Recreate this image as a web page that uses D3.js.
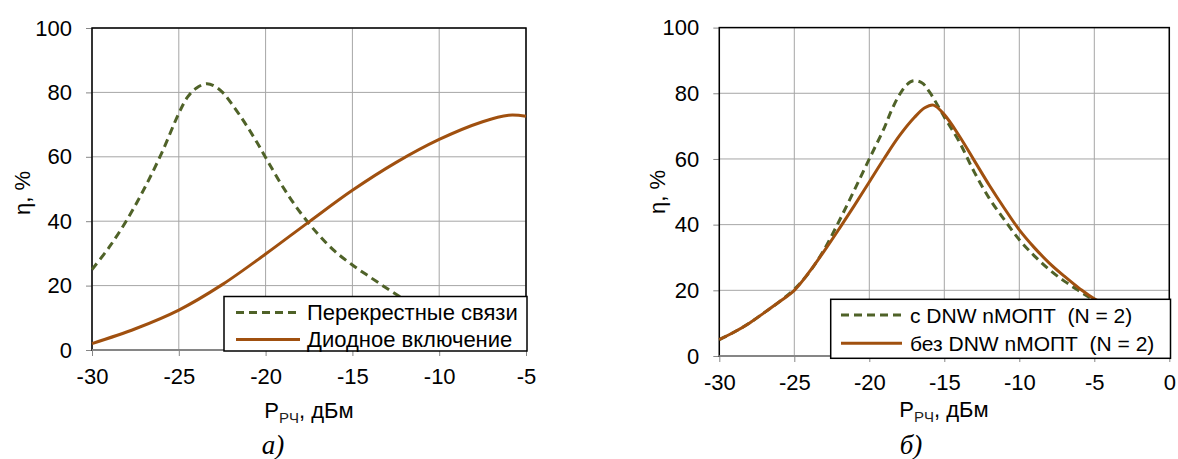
<!DOCTYPE html>
<html>
<head>
<meta charset="utf-8">
<script src="https://cdn.jsdelivr.net/npm/d3@7"></script>
<style>
  body { margin: 0; background: #fff; }
  svg { display: block; font-family: Arial, "Liberation Sans", sans-serif; }
  .grid line { stroke: #a6a6a6; stroke-width: 1; }
  .axis path, .axis line { stroke: #868686; }
  .axis text { font-size: 22px; fill: #000; }
</style>
</head>
<body>
<script>
// ---- data ----
var yTicks = [0, 20, 40, 60, 80, 100];
var xTicksA = [-30, -25, -20, -15, -10, -5];
var xTicksB = [-30, -25, -20, -15, -10, -5, 0];

// panel a)
var namesA = ["Перекрестные связи", "Диодное включение"];
var crossX = [-30, -29, -28, -27, -26, -25, -24.5, -24, -23.4, -22.9, -22.4, -22, -21.5, -21, -20.5, -20, -19, -18, -17, -16, -15, -14, -13, -12, -11, -10, -7.5, -5];
var crossY = [25, 32, 40.3, 50, 61, 73.5, 78.5, 81.3, 82.7, 81.8, 79.6, 76.8, 73, 68.9, 64.5, 59.8, 50.6, 42.7, 36.1, 30.6, 26.4, 22.7, 19.1, 15.7, 12.8, 10.5, 6.6, 4.5];
var diodeX = [-30, -27.5, -25, -22.5, -20, -17.5, -15, -12.5, -10, -7.5, -6, -5];
var diodeY = [2, 6.6, 12.4, 20.3, 29.8, 39.8, 49.6, 58.2, 65.4, 70.9, 72.9, 72.6];

// panel б)
var namesB = ["с DNW nМОПТ  (N = 2)", "без DNW nМОПТ  (N = 2)"];
var dnwX = [-30, -29, -28, -27, -26, -25, -24, -23, -22, -21, -20, -19, -18.5, -18, -17.5, -17.07, -16.5, -16, -15, -14, -13, -12, -11, -10, -9, -8, -7, -6, -5, -2.5, 0];
var dnwY = [5, 7.3, 10, 13.2, 16.5, 20.3, 25.5, 32.5, 41.2, 50.5, 60, 69.5, 75, 79.5, 82.6, 83.8, 83.2, 80.5, 72.8, 65.2, 56, 48, 41.5, 35.4, 30.5, 26.3, 22.8, 19.8, 17, 11, 7.5];
var noDnwX = [-30, -29, -28, -27, -26, -25, -24, -23, -22, -21, -20, -19, -18, -17, -16.3, -15.73, -15, -14, -13, -12, -11, -10, -9, -8, -7, -6, -5, -2.5, 0];
var noDnwY = [5, 7.3, 10, 13.2, 16.5, 20, 25.6, 32, 38.8, 45.8, 53, 60.2, 67, 72.6, 75.6, 76.4, 73.5, 67, 59.5, 52, 45, 38.4, 33, 28.3, 24.3, 20.6, 17.4, 11.8, 8];

var green = "#4f6228", brown = "#a0500f";

var svg = d3.select("body").append("svg")
    .attr("width", 1178)
    .attr("height", 459);

function zip(xs, ys) {
    return xs.map(function(x, i) { return {x: x, y: ys[i]}; });
}

function panel(opt) {
    var x = d3.scaleLinear().domain(opt.xDomain).range([opt.left, opt.right]);
    var y = d3.scaleLinear().domain([0, 100]).range([opt.bottom, opt.top]);
    var fmt = function(d) { return String(d); };   // plain hyphen, not U+2212

    var grid = svg.append("g").attr("class", "grid");
    grid.selectAll(".gx").data(opt.xTicks).enter().append("line")
        .attr("x1", function(d) { return x(d); }).attr("x2", function(d) { return x(d); })
        .attr("y1", opt.top).attr("y2", opt.bottom);
    grid.selectAll(".gy").data(yTicks).enter().append("line")
        .attr("x1", opt.left).attr("x2", opt.right)
        .attr("y1", function(d) { return y(d); }).attr("y2", function(d) { return y(d); });

    svg.append("g")
        .attr("class", "axis")
        .attr("transform", "translate(" + opt.left + ",0)")
        .call(d3.axisLeft(y).tickValues(yTicks).tickFormat(fmt).tickSize(6).tickSizeOuter(0).tickPadding(14))
        .attr("font-family", null).attr("font-size", null)
        .call(function(g) { g.select(".domain").remove(); });

    svg.append("g")
        .attr("class", "axis")
        .attr("transform", "translate(0," + opt.bottom + ")")
        .call(d3.axisBottom(x).tickValues(opt.xTicks).tickFormat(fmt).tickSize(6).tickSizeOuter(0).tickPadding(12))
        .attr("font-family", null).attr("font-size", null)
        .call(function(g) { g.select(".domain").remove(); });

    // frame
    svg.append("rect")
        .attr("x", opt.left).attr("y", opt.top)
        .attr("width", opt.right - opt.left).attr("height", opt.bottom - opt.top)
        .attr("fill", "none").attr("stroke", "#000").attr("stroke-width", 1.5);
    svg.append("line")
        .attr("x1", opt.left).attr("x2", opt.right)
        .attr("y1", opt.bottom).attr("y2", opt.bottom)
        .attr("stroke", "#868686").attr("stroke-width", 2);

    var line = d3.line()
        .x(function(d) { return x(d.x); })
        .y(function(d) { return y(d.y); })
        .curve(d3.curveCatmullRom.alpha(0.5));

    opt.series.forEach(function(s) {
        svg.append("path")
            .datum(s.data)
            .attr("d", line)
            .attr("fill", "none")
            .attr("stroke", s.color)
            .attr("stroke-width", 3)
            .attr("stroke-dasharray", s.dash ? "8,5" : null);
    });

    // legend
    var lg = svg.append("g");
    lg.append("rect")
        .attr("x", opt.legend[0]).attr("y", opt.legend[1])
        .attr("width", opt.legend[2] - opt.legend[0]).attr("height", opt.legend[3] - opt.legend[1])
        .attr("fill", "#fff").attr("stroke", "#000").attr("stroke-width", 1.5);
    opt.series.forEach(function(s, i) {
        var yy = opt.legendRows[i];
        lg.append("line")
            .attr("x1", opt.legendLine[0]).attr("x2", opt.legendLine[1])
            .attr("y1", yy).attr("y2", yy)
            .attr("stroke", s.color).attr("stroke-width", 3)
            .attr("stroke-dasharray", s.dash ? "8,5" : null);
        lg.append("text")
            .attr("x", opt.legendLine[2]).attr("y", yy)
            .attr("dy", "0.36em")
            .attr("font-size", opt.legendFont)
            .style("white-space", "pre")
            .text(s.name);
    });

    // axis titles
    svg.append("text")
        .attr("transform", "translate(" + opt.yTitle[0] + "," + opt.yTitle[1] + ") rotate(-90)")
        .attr("text-anchor", "middle")
        .attr("dy", "0.35em")
        .attr("font-size", 22)
        .text("η, %");

    var xt = svg.append("text")
        .attr("x", opt.xTitle[0]).attr("y", opt.xTitle[1])
        .attr("text-anchor", "middle")
        .attr("font-size", 22);
    xt.append("tspan").text("P");
    xt.append("tspan").attr("font-size", 15).attr("dy", 5).attr("fill", "#222").text("РЧ");
    xt.append("tspan").attr("dy", -5).text(", дБм");

    svg.append("text")
        .attr("x", opt.label[0]).attr("y", opt.label[1])
        .attr("text-anchor", "middle")
        .attr("font-family", "'Liberation Serif', 'Times New Roman', serif")
        .attr("font-style", "italic")
        .attr("font-size", 27)
        .text(opt.label[2]);
}

panel({
    xDomain: [-30, -5], xTicks: xTicksA,
    left: 92, right: 526, top: 28, bottom: 350,
    series: [
        {name: namesA[0], data: zip(crossX, crossY), color: green, dash: true},
        {name: namesA[1], data: zip(diodeX, diodeY), color: brown, dash: false}
    ],
    legend: [224, 296.5, 527, 351],
    legendLine: [236, 300, 307],
    legendRows: [312.5, 339.5],
    legendFont: 22,
    yTitle: [22, 193],
    xTitle: [309, 418],
    label: [273, 454, "а)"]
});

panel({
    xDomain: [-30, 0], xTicks: xTicksB,
    left: 719.3, right: 1169.3, top: 27.6, bottom: 356,
    series: [
        {name: namesB[0], data: zip(dnwX, dnwY), color: green, dash: true},
        {name: namesB[1], data: zip(noDnwX, noDnwY), color: brown, dash: false}
    ],
    legend: [830.7, 299.3, 1170.5, 358.3],
    legendLine: [841, 902, 910],
    legendRows: [315, 343.3],
    legendFont: 21,
    yTitle: [657, 192],
    xTitle: [944, 417],
    label: [911, 454, "б)"]
});
</script>
</body>
</html>
